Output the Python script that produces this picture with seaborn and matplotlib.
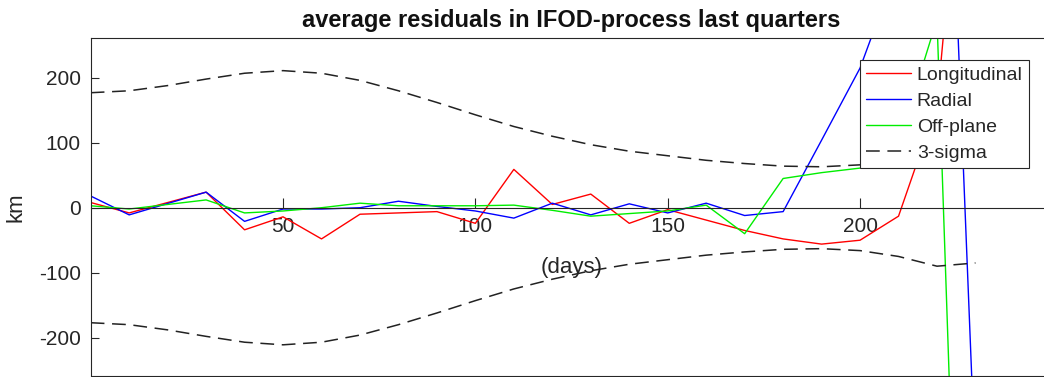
import numpy as np
import pandas as pd
import matplotlib
matplotlib.use('Agg')
import matplotlib.pyplot as plt
import seaborn as sns

# sample days of the residual series
days = [0, 10, 30, 40, 50, 60, 70, 80, 90, 100, 110, 120, 130, 140, 150,
        160, 170, 180, 190, 200, 210, 220, 230]
longitudinal = [8, -8, 24, -34, -14, -48, -10, -8, -6, -24, 59, 5, 21, -24, -3,
                -19, -35, -48, -56, -50, -13, 158, 800]
radial = [18, -11, 24, -21, -2, -2, 0, 10, 2, -5, -16, 7, -11, 6, -8,
          7, -12, -6, 104, 215, 376, 1076, -404]
off_plane = [3, -2, 12, -8, -5, 0, 7, 3, 3, 3, 4, -4, -13, -9, -5,
             4, -40, 45, 54, 61, 99, 290, -1450]

# 3-sigma envelope
sigma_days = [0, 10, 20, 30, 40, 50, 60, 70, 80, 90, 100, 110, 120, 130, 140,
              150, 160, 170, 180, 190, 200, 210, 220, 230]
sigma = [177, 180, 188, 198, 207, 211, 207, 196, 180, 162, 143, 125, 110, 97, 87,
         80, 73, 68, 64, 63, 66, 75, 90, 85]

series_names = ['Longitudinal', 'Radial', 'Off-plane']
series_colors = ['#ff0000', '#0000ff', '#00ee00']

df = pd.DataFrame({
    'days': days * 3,
    'km': longitudinal + radial + off_plane,
    'component': np.repeat(series_names, len(days)),
})
sig = pd.DataFrame({'days': sigma_days, 'upper': sigma,
                    'lower': [-s for s in sigma]})

sns.set_theme(style='white')
plt.rcParams['font.family'] = ['Liberation Sans', 'DejaVu Sans']
plt.rcParams['axes.unicode_minus'] = False

fig = plt.figure(figsize=(10.44, 3.77), dpi=100)
ax = fig.add_axes([90.7 / 1044, 1 / 377, 961.7 / 1044, 338.5 / 377])

for name, col in zip(series_names, series_colors):
    sns.lineplot(data=df[df.component == name], x='days', y='km', color=col,
                 linewidth=1.0, label=name, ax=ax, estimator=None)
sns.lineplot(data=sig, x='days', y='upper', color='#222222', linewidth=1.1,
             dashes=False, ax=ax, label='3-sigma', estimator=None)
sns.lineplot(data=sig, x='days', y='lower', color='#222222', linewidth=1.1,
             dashes=False, ax=ax, estimator=None)
for ln in ax.lines[-2:]:
    ln.set_dashes([9, 5])

ax.set_xlim(0, 250)
ax.set_ylim(-259, 262)
ax.set_xticks([50, 100, 150, 200])
ax.set_yticks([-200, -100, 0, 100, 200])

edge = '#262626'
ax.spines['bottom'].set_position(('data', 0))
for s in ax.spines.values():
    s.set_color(edge)
    s.set_linewidth(0.8)
# bottom edge of the box
ax.plot([0, 1], [0, 0], transform=ax.transAxes, color=edge, lw=0.8, clip_on=False)

ax.tick_params(axis='x', direction='in', length=7.2, width=0.8, pad=6.5,
               labelsize=15, colors=edge, bottom=True, top=False)
ax.tick_params(axis='y', direction='in', length=5.8, width=0.8, pad=7,
               labelsize=15, colors=edge, left=True, right=True)

ax.set_title('average residuals in IFOD-process last quarters', fontsize=17,
             fontweight='bold', pad=7.5, color='#111111')
ax.set_ylabel('km', fontsize=16, color=edge)
ax.yaxis.set_label_coords(-0.067, 0.5)
ax.set_xlabel('(days)', fontsize=16, color=edge, va='top')
ax.xaxis.set_label_coords(0.5, 0.352)

leg = ax.legend(loc='upper right', bbox_to_anchor=(0.9757, 0.9335), borderaxespad=0,
                fancybox=False, framealpha=1, edgecolor=edge, fontsize=14,
                handlelength=2.3, handletextpad=0.3, labelspacing=0.43,
                borderpad=0.33)
leg.get_frame().set_linewidth(0.8)

fig.savefig('out.png', dpi=100)
